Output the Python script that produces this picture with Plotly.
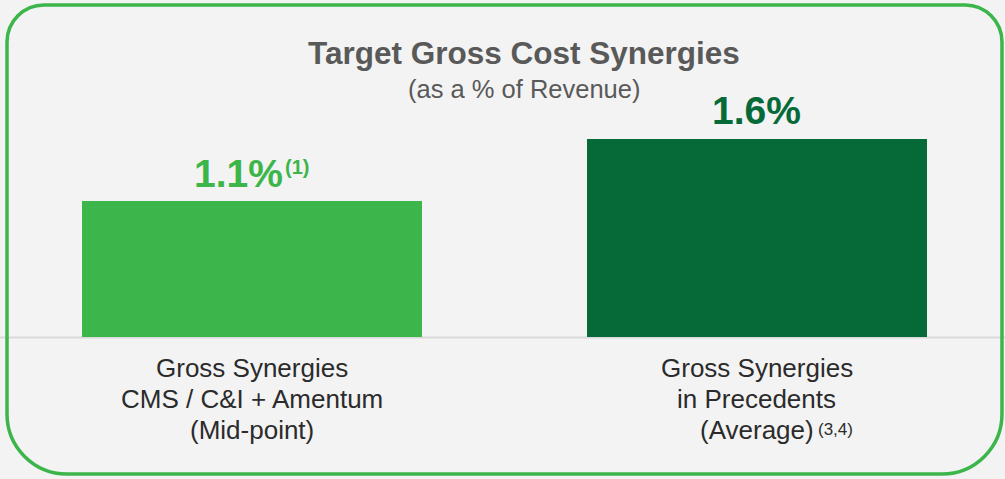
import plotly.graph_objects as go

# --- data -------------------------------------------------------------
categories = ["CMS / C&I + Amentum", "Precedents"]
values = [1.1, 1.6]                      # gross synergies, % of revenue
value_notes = ["(1)", ""]
label_lines = [
    ["Gross Synergies", "CMS / C&I + Amentum", "(Mid-point)"],
    ["Gross Synergies", "in Precedents", "(Average)"],
]
label_notes = ["", "(3,4)"]
bar_colors = ["#3cb54a", "#066a38"]
text_colors = ["#3cb54a", "#066a38"]

TITLE = "Target Gross Cost Synergies"
SUBTITLE = "(as a % of Revenue)"

# --- canvas geometry (pixels) -------------------------------------------
W, H = 1005, 479
ZERO_PX = 337.4          # vertical pixel of the value axis baseline
PX_PER_UNIT = 124.3      # pixels per 1 percentage point
C0, C1 = 252.0, 756.7    # horizontal centres of the two bars
BAR_PX = 340.0
UNIT_X = C1 - C0

FONT = "Liberation Sans, Arial, sans-serif"
BG = "#f3f3f3"


def px_x(px):
    return px / W


def px_y(py):
    return 1 - py / H


xs = list(range(len(values)))

fig = go.Figure()
fig.add_trace(go.Bar(
    x=xs, y=values, width=BAR_PX / UNIT_X,
    marker=dict(color=bar_colors, line=dict(width=0)),
    hoverinfo="skip", showlegend=False,
))

annotations = []

# chart heading
annotations.append(dict(
    text=f"<b>{TITLE}</b>", x=px_x(524), y=px_y(53.2), xref="paper", yref="paper",
    xanchor="center", yanchor="middle", showarrow=False,
    font=dict(family=FONT, size=31.5, color="#595959"),
))
annotations.append(dict(
    text=SUBTITLE, x=px_x(524), y=px_y(88.8), xref="paper", yref="paper",
    xanchor="center", yanchor="middle", showarrow=False,
    font=dict(family=FONT, size=25.5, color="#595959"),
))

# value labels above bars
VAL_SIZE = 39
for i, (v, note, col) in enumerate(zip(values, value_notes, text_colors)):
    shift_x = -13.4 if note else 0
    annotations.append(dict(
        text=f"<b>{v:.1f}%</b>", x=i, y=v, xref="x", yref="y",
        xanchor="center", yanchor="middle", showarrow=False,
        xshift=shift_x, yshift=14 + 0.35 * VAL_SIZE,
        font=dict(family=FONT, size=VAL_SIZE, color=col),
    ))
    if note:
        annotations.append(dict(
            text=f"<b>{note}</b>", x=i, y=v, xref="x", yref="y",
            xanchor="left", yanchor="middle", showarrow=False,
            xshift=31, yshift=14 + 0.35 * VAL_SIZE + 6,
            font=dict(family=FONT, size=20, color=col),
        ))

# category labels below the baseline
CAT_SIZE = 26
baselines = [377.3, 408.3, 439.3]
for i, lines in enumerate(label_lines):
    for j, line in enumerate(lines):
        annotations.append(dict(
            text=line, x=i, y=px_y(baselines[j] - 0.35 * CAT_SIZE),
            xref="x", yref="paper", xanchor="center", yanchor="middle",
            showarrow=False, font=dict(family=FONT, size=CAT_SIZE, color="#2b2b2b"),
        ))
    if label_notes[i]:
        annotations.append(dict(
            text=label_notes[i], x=i, y=px_y(435.8 - 0.35 * 17),
            xref="x", yref="paper", xanchor="left", yanchor="middle",
            xshift=59.5, showarrow=False,
            font=dict(family=FONT, size=17, color="#2b2b2b"),
        ))

# rounded frame around the whole panel
L, R, T, B = 7, 1002, 5, 474
rt, rb, k = 37, 60, 0.5523


def P(px, py):
    return f"{px_x(px):.5f},{px_y(py):.5f}"


frame = (
    f"M {P(L + rt, T)} L {P(R - rt, T)} "
    f"C {P(R - rt + k * rt, T)} {P(R, T + rt - k * rt)} {P(R, T + rt)} "
    f"L {P(R, B - rb)} "
    f"C {P(R, B - rb + k * rb)} {P(R - rb + k * rb, B)} {P(R - rb, B)} "
    f"L {P(L + rb, B)} "
    f"C {P(L + rb - k * rb, B)} {P(L, B - rb + k * rb)} {P(L, B - rb)} "
    f"L {P(L, T + rt)} "
    f"C {P(L, T + rt - k * rt)} {P(L + rt - k * rt, T)} {P(L + rt, T)} Z"
)

shapes = [
    dict(type="line", xref="paper", yref="y", x0=0, x1=1, y0=0, y1=0,
         line=dict(color="#d9d9d9", width=2), layer="below"),
    dict(type="path", xref="paper", yref="paper", path=frame,
         line=dict(color="#3cb54a", width=3.5), fillcolor="rgba(0,0,0,0)",
         layer="above"),
]

fig.update_layout(
    width=W, height=H,
    margin=dict(l=0, r=0, t=0, b=0, pad=0),
    paper_bgcolor=BG, plot_bgcolor=BG,
    xaxis=dict(range=[-C0 / UNIT_X, (W - C0) / UNIT_X], visible=False, fixedrange=True),
    yaxis=dict(range=[-(H - ZERO_PX) / PX_PER_UNIT, ZERO_PX / PX_PER_UNIT],
               visible=False, fixedrange=True),
    annotations=annotations,
    shapes=shapes,
    bargap=0,
    showlegend=False,
)

fig.write_html("out.html", config={"displayModeBar": False})
